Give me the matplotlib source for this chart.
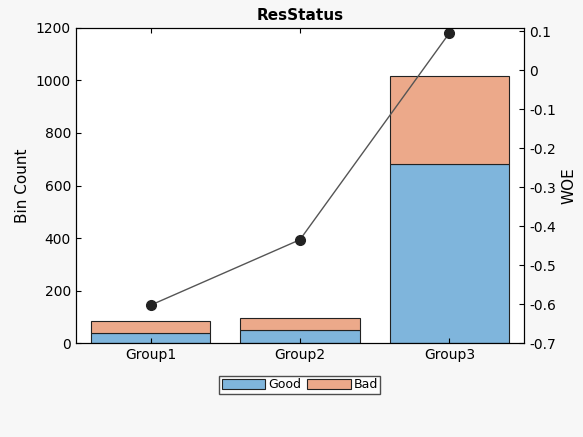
import numpy as np
import matplotlib
matplotlib.use('Agg')
import matplotlib.pyplot as plt

groups = ['Group1', 'Group2', 'Group3']
good = [38, 50, 683]
bad = [45, 45, 335]
woe = [-0.603, -0.435, 0.095]

fig = plt.figure(figsize=(5.83, 4.37), dpi=100, facecolor='#f7f7f7')
ax = fig.add_axes([0.130, 0.215, 0.769, 0.721])
x = np.arange(1, len(groups) + 1)
hg = ax.bar(x, good, width=0.8, color='#7fb5dc', edgecolor='#222222', linewidth=0.8, label='Good')
hb = ax.bar(x, bad, width=0.8, bottom=good, color='#eca98a', edgecolor='#222222', linewidth=0.8, label='Bad')
ax.set_xlim(0.5, 3.5)
ax.set_ylim(0, 1200)
ax.set_xticks(x)
ax.set_xticklabels(groups)
ax.set_ylabel('Bin Count', fontsize=11)
ax.set_title('ResStatus', fontsize=11, fontweight='bold')
ax.tick_params(direction='in', labelsize=10, top=True)

ax2 = ax.twinx()
ax2.plot(x, woe, color='#555555', linewidth=1, marker='o', markersize=7,
         markerfacecolor='#222222', markeredgecolor='#222222')
ax2.set_ylim(-0.7, 0.108)
ax2.set_yticks(np.arange(-0.7, 0.11, 0.1))
ax2.set_yticklabels(['-0.7', '-0.6', '-0.5', '-0.4', '-0.3', '-0.2', '-0.1', '0', '0.1'])
ax2.set_ylabel('WOE', fontsize=11)
ax2.tick_params(direction='in', labelsize=10)

fig.legend([hg, hb], ['Good', 'Bad'], loc='center', bbox_to_anchor=(0.514, 0.12),
           ncol=2, fontsize=9, frameon=True, fancybox=False, edgecolor='#222222',
           handlelength=3.5, handleheight=0.9, borderpad=0.2, columnspacing=0.5,
           handletextpad=0.2)
fig.savefig('out.png', dpi=100, facecolor=fig.get_facecolor())
